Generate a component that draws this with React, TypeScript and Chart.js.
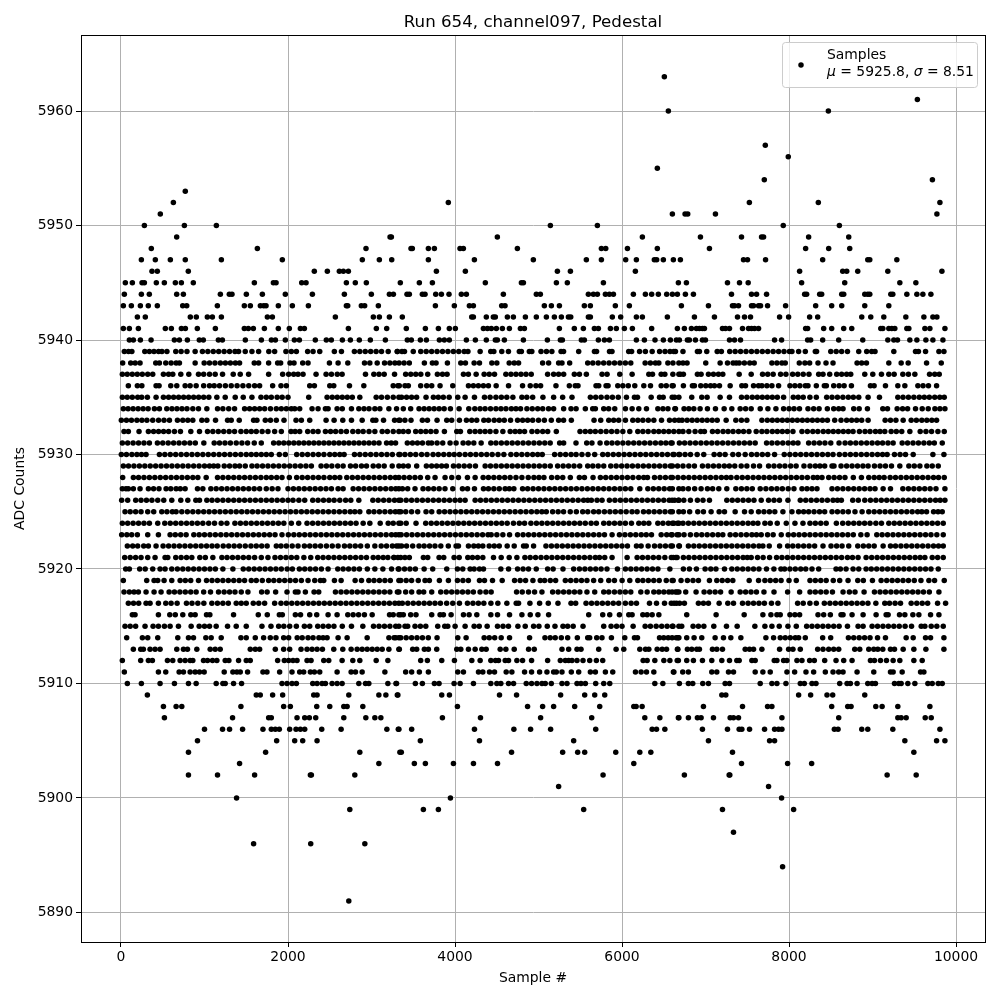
import React, { useEffect, useRef } from "react";
import { Chart, registerables } from "chart.js";

Chart.register(...registerables);

const titleText = "Run 654, channel097, Pedestal";
const xLabel = "Sample #";
const yLabel = "ADC Counts";
const xTicks = [0, 2000, 4000, 6000, 8000, 10000];
const yTicks = [5890, 5900, 5910, 5920, 5930, 5940, 5950, 5960];

const adc5963 = [6507];
const adc5961 = [9537];
const adc5960 = [6555, 8471];
const adc5957 = [7716];
const adc5956 = [7991];
const adc5955 = [6423];
const adc5954 = [7704, 9717];
const adc5953 = [770];
const adc5952 = [627, 3920, 7525, 8351, 9807];
const adc5951 = [471, 6603, 6755, 6787, 7119, 9771];
const adc5950 = [280, 759, 1142, 5142, 5705, 7931, 8603];
const adc5949 = [667, 3222, 3238, 4507, 6244, 6939, 7431, 7671, 7695, 8235, 8715];
const adc5948 = [363, 1633, 2934, 3473, 3489, 3681, 3753, 4060, 4100, 4747, 5753, 5805, 6065, 6423, 7047, 8199, 8475, 8727];
const adc5947 = [244, 411, 591, 770, 1202, 1932, 2890, 3094, 3242, 3681, 4232, 4938, 5573, 5753, 6044, 6172, 6387, 6415, 6495, 6615, 6699, 7455, 7503, 7719, 8403, 8943, 8967, 9291];
const adc5946 = [371, 435, 806, 2315, 2471, 2615, 2663, 2723, 3777, 4124, 5226, 5382, 6160, 8127, 8643, 8691, 8823, 9183, 9831];
const adc5945 = [52, 136, 252, 280, 423, 519, 651, 723, 866, 1597, 1825, 1857, 2164, 2216, 2699, 2806, 2938, 3345, 3573, 3729, 4363, 4795, 4819, 5214, 5345, 5777, 6675, 6771, 7263, 7407, 7511, 8151, 8667, 9327, 9519];
const adc5944 = [40, 244, 339, 667, 747, 1190, 1297, 1329, 1501, 1693, 1968, 2292, 2675, 2998, 3214, 3262, 3425, 3453, 3609, 3641, 3769, 3837, 3928, 4076, 4136, 4579, 4974, 5022, 5597, 5657, 5705, 5801, 5849, 5897, 6136, 6280, 6355, 6435, 6535, 6603, 6663, 6759, 6855, 7311, 7551, 7611, 7731, 8187, 8211, 8367, 8391, 8631, 8655, 8907, 8943, 8967, 9219, 9243, 9411, 9531, 9603, 9699];
const adc5943 = [28, 124, 232, 327, 435, 739, 787, 1154, 1477, 1549, 1669, 1709, 1737, 1884, 2052, 2244, 2699, 2715, 2878, 2918, 3082, 3765, 3992, 4172, 4220, 4559, 4599, 5070, 5154, 5250, 5549, 5621, 5920, 6088, 6711, 7035, 7323, 7347, 7395, 7551, 7575, 7635, 7659, 7743, 7959, 8319, 8511, 8631, 8907, 9195];
const adc5942 = [196, 291, 830, 902, 1034, 1094, 1202, 1753, 1813, 2567, 3022, 3094, 3214, 3369, 4200, 4220, 4375, 4459, 4483, 4627, 4699, 4843, 4974, 5094, 5190, 5274, 5358, 5386, 5597, 5621, 5884, 5984, 6172, 6244, 6543, 6867, 7107, 7383, 7467, 7539, 7887, 7995, 8247, 8343, 8871, 8979, 9135, 9399, 9615, 9723, 9771];
const adc5941 = [28, 100, 208, 531, 603, 723, 771, 914, 1130, 1477, 1525, 1585, 1717, 1884, 2016, 2148, 2196, 2723, 3058, 3182, 3417, 3645, 3801, 3932, 4004, 4340, 4388, 4435, 4495, 4567, 4651, 4783, 4831, 5250, 5429, 5537, 5669, 5717, 5861, 5932, 6028, 6124, 6355, 6663, 6747, 6831, 6891, 6927, 6963, 6987, 7203, 7239, 7287, 7443, 7515, 7551, 7587, 7635, 8199, 8223, 8415, 8511, 8655, 8751, 9099, 9123, 9195, 9231, 9267, 9411, 9435, 9627, 9687, 9867];
const adc5940 = [100, 148, 232, 360, 639, 699, 795, 938, 986, 1166, 1214, 1489, 1681, 1801, 1849, 1968, 2076, 2136, 2327, 2459, 2519, 2651, 2747, 2854, 2986, 3166, 3429, 3477, 3585, 3657, 3813, 3872, 3932, 4136, 4244, 4375, 4483, 4507, 4591, 4819, 5106, 5262, 5286, 5513, 5549, 5717, 5789, 5849, 6172, 6268, 6395, 6495, 6579, 6651, 6687, 6783, 6807, 6879, 6963, 6999, 7287, 7347, 7419, 7827, 7911, 8223, 8259, 8403, 8595, 8883, 9183, 9255, 9299, 9447, 9531, 9639, 9723, 9843];
const adc5939 = [40, 90, 130, 285, 340, 395, 450, 490, 550, 656, 720, 790, 888, 975, 1040, 1105, 1170, 1235, 1300, 1365, 1408, 1488, 1568, 1648, 1770, 1840, 1975, 2040, 2100, 2235, 2300, 2380, 2555, 2640, 2795, 2860, 2925, 2990, 3055, 3120, 3200, 3308, 3310, 3365, 3395, 3500, 3590, 3655, 3720, 3785, 3850, 3915, 3980, 4045, 4110, 4155, 4301, 4428, 4465, 4560, 4640, 4770, 4795, 4890, 4920, 5030, 5095, 5160, 5270, 5300, 5481, 5670, 5695, 5850, 5880, 6080, 6115, 6210, 6280, 6361, 6450, 6515, 6575, 6620, 6640, 6730, 6903, 6927, 7015, 7140, 7190, 7290, 7355, 7420, 7485, 7550, 7615, 7680, 7745, 7810, 7875, 7940, 8005, 8035, 8115, 8195, 8315, 8330, 8500, 8565, 8630, 8700, 8835, 8930, 8990, 9030, 9255, 9515, 9550, 9635, 9795, 9855];
const adc5938 = [20, 116, 170, 228, 416, 460, 536, 600, 660, 700, 888, 996, 1060, 1125, 1190, 1250, 1310, 1370, 1420, 1596, 1648, 1768, 1876, 1912, 2024, 2072, 2176, 2240, 2496, 2600, 2716, 2916, 2980, 3068, 3156, 3220, 3280, 3330, 3390, 3453, 3633, 3729, 3773, 3909, 4069, 4125, 4229, 4293, 4441, 4501, 4649, 4709, 4761, 5049, 5121, 5241, 5281, 5373, 5589, 5650, 5715, 5780, 5845, 5910, 5975, 6040, 6105, 6277, 6340, 6400, 6441, 6549, 6610, 6681, 6730, 6779, 7003, 7175, 7263, 7330, 7367, 7403, 7465, 7530, 7583, 7795, 7855, 7915, 7955, 8123, 8190, 8247, 8347, 8443, 8527, 8815, 8870, 8927, 9195, 9343, 9427, 9647, 9823];
const adc5937 = [16, 75, 135, 195, 255, 320, 380, 508, 570, 620, 716, 812, 928, 990, 1060, 1128, 1216, 1344, 1428, 1528, 1768, 1936, 2008, 2068, 2120, 2180, 2336, 2456, 2520, 2590, 2648, 2928, 3028, 3090, 3152, 3276, 3409, 3470, 3530, 3590, 3673, 3789, 3850, 3905, 4101, 4160, 4253, 4349, 4410, 4473, 4609, 4670, 4730, 4790, 4850, 4913, 5109, 5181, 5241, 5301, 5429, 5490, 5573, 5761, 5821, 5973, 6121, 6321, 6365, 6469, 6513, 6609, 6681, 6700, 6735, 6903, 6947, 7035, 7095, 7155, 7207, 7403, 7547, 7683, 7745, 7810, 7899, 7963, 8043, 8105, 8170, 8239, 8355, 8407, 8487, 8571, 8630, 8690, 8739, 8907, 9003, 9107, 9195, 9259, 9363, 9430, 9507, 9683, 9745, 9799];
const adc5936 = [88, 196, 250, 420, 456, 596, 668, 768, 828, 900, 990, 1060, 1116, 1180, 1250, 1320, 1390, 1460, 1530, 1600, 1660, 1816, 1916, 1980, 2260, 2316, 2500, 2548, 2736, 2908, 3260, 3316, 3333, 3401, 3441, 3589, 3661, 3721, 3821, 3973, 4161, 4220, 4280, 4340, 4400, 4493, 4641, 4809, 4901, 4969, 5025, 5209, 5369, 5440, 5473, 5689, 5721, 5809, 5833, 5949, 6010, 6075, 6153, 6261, 6341, 6469, 6530, 6600, 6613, 6735, 6843, 6867, 6943, 7003, 7060, 7107, 7167, 7295, 7435, 7479, 7575, 7635, 7675, 7735, 7795, 7875, 8011, 8070, 8130, 8195, 8227, 8327, 8423, 8447, 8535, 8600, 8660, 8747, 8975, 9019, 9155, 9303, 9387, 9543, 9605, 9670, 9767];
const adc5935 = [16, 75, 135, 200, 248, 316, 420, 508, 570, 630, 690, 750, 810, 870, 930, 990, 1052, 1148, 1248, 1368, 1464, 1568, 1676, 1740, 1800, 1870, 1930, 2000, 2248, 2468, 2530, 2590, 2650, 2710, 2770, 2860, 3056, 3120, 3190, 3260, 3328, 3360, 3420, 3480, 3540, 3653, 3741, 3800, 3860, 3930, 4033, 4121, 4233, 4353, 4420, 4490, 4555, 4620, 4693, 4801, 4860, 4930, 5053, 5181, 5289, 5401, 5621, 5685, 5750, 5820, 5885, 5955, 6053, 6149, 6185, 6349, 6449, 6493, 6601, 6630, 6681, 6835, 6955, 7019, 7175, 7287, 7431, 7495, 7560, 7620, 7680, 7740, 7800, 7860, 7935, 8051, 8110, 8170, 8250, 8327, 8451, 8515, 8580, 8645, 8710, 8770, 8835, 8947, 9083, 9303, 9365, 9430, 9495, 9560, 9620, 9680, 9745, 9805, 9859];
const adc5934 = [28, 85, 145, 205, 265, 325, 400, 460, 548, 610, 670, 730, 790, 860, 928, 1028, 1156, 1220, 1290, 1360, 1480, 1540, 1600, 1660, 1720, 1790, 1860, 1920, 1980, 2040, 2080, 2140, 2288, 2360, 2448, 2480, 2588, 2650, 2760, 2848, 2910, 2970, 3040, 3100, 3208, 3300, 3381, 3469, 3569, 3630, 3690, 3750, 3810, 3870, 3945, 4049, 4165, 4237, 4300, 4360, 4425, 4490, 4550, 4610, 4675, 4730, 4785, 4861, 4925, 4990, 5050, 5120, 5181, 5301, 5389, 5450, 5561, 5649, 5681, 5781, 5840, 5913, 6041, 6121, 6201, 6293, 6429, 6490, 6550, 6633, 6640, 6743, 6800, 6860, 6935, 7023, 7119, 7223, 7315, 7415, 7480, 7547, 7655, 7747, 7843, 7935, 8000, 8060, 8125, 8227, 8295, 8360, 8459, 8535, 8595, 8647, 8775, 8840, 8939, 9123, 9179, 9295, 9360, 9420, 9515, 9595, 9667, 9747, 9807, 9867];
const adc5933 = [4, 65, 125, 190, 250, 310, 380, 450, 515, 580, 676, 740, 800, 860, 968, 1028, 1132, 1276, 1320, 1416, 1588, 1628, 1728, 1790, 1860, 1952, 2096, 2160, 2260, 2456, 2552, 2656, 2760, 2888, 3016, 3052, 3144, 3276, 3328, 3340, 3400, 3473, 3609, 3670, 3785, 3901, 3960, 4053, 4137, 4200, 4260, 4345, 4401, 4469, 4530, 4590, 4665, 4749, 4810, 4870, 4930, 5000, 5070, 5153, 5241, 5300, 5393, 5665, 5745, 5841, 5900, 5960, 6041, 6129, 6190, 6250, 6315, 6381, 6473, 6569, 6630, 6681, 6720, 6780, 6840, 6900, 6960, 7020, 7080, 7140, 7247, 7363, 7430, 7495, 7675, 7740, 7800, 7860, 7920, 7980, 8040, 8100, 8160, 8220, 8280, 8340, 8400, 8460, 8547, 8623, 8690, 8750, 8810, 8870, 8947, 9151, 9215, 9280, 9367, 9463, 9525, 9590, 9650, 9710, 9767];
const adc5932 = [36, 88, 216, 328, 390, 450, 510, 570, 640, 712, 836, 940, 1036, 1100, 1165, 1230, 1295, 1360, 1436, 1500, 1560, 1620, 1690, 1760, 1840, 1920, 2036, 2085, 2140, 2236, 2300, 2360, 2448, 2510, 2570, 2635, 2700, 2776, 2840, 2900, 2970, 3040, 3128, 3190, 3260, 3328, 3380, 3441, 3529, 3590, 3650, 3710, 3773, 3873, 4021, 4065, 4177, 4240, 4300, 4360, 4420, 4490, 4573, 4661, 4720, 4775, 4833, 4921, 4985, 5050, 5110, 5213, 5497, 5560, 5620, 5680, 5745, 5810, 5875, 5940, 6010, 6093, 6189, 6250, 6313, 6381, 6440, 6500, 6560, 6620, 6681, 6730, 6800, 6875, 6943, 6987, 7083, 7145, 7210, 7270, 7330, 7395, 7455, 7520, 7607, 7675, 7735, 7800, 7860, 7920, 7980, 8047, 8155, 8220, 8285, 8345, 8410, 8470, 8530, 8590, 8650, 8710, 8767, 8843, 8910, 8970, 9035, 9090, 9147, 9223, 9285, 9350, 9447, 9571, 9640, 9707, 9783, 9859];
const adc5931 = [16, 80, 145, 210, 275, 340, 436, 500, 565, 630, 695, 760, 825, 890, 992, 1116, 1180, 1245, 1310, 1380, 1448, 1516, 1596, 1680, 1828, 1890, 1950, 2010, 2070, 2130, 2190, 2250, 2310, 2370, 2430, 2490, 2550, 2610, 2670, 2730, 2790, 2850, 2910, 2970, 3030, 3090, 3180, 3236, 3288, 3429, 3490, 3550, 3610, 3680, 3720, 3785, 3853, 3941, 4013, 4097, 4160, 4225, 4313, 4429, 4490, 4555, 4620, 4685, 4750, 4815, 4880, 4945, 5010, 5075, 5140, 5253, 5301, 5449, 5577, 5640, 5737, 5817, 5880, 5945, 6010, 6075, 6140, 6205, 6270, 6335, 6400, 6465, 6525, 6585, 6600, 6687, 6750, 6815, 6880, 6945, 7010, 7075, 7140, 7205, 7270, 7335, 7400, 7465, 7530, 7595, 7731, 7795, 7860, 7925, 7990, 8050, 8107, 8235, 8300, 8365, 8430, 8500, 8599, 8671, 8735, 8800, 8865, 8930, 8995, 9060, 9120, 9185, 9247, 9355, 9420, 9485, 9550, 9615, 9680, 9740, 9835];
const adc5930 = [4, 65, 130, 190, 245, 300, 460, 525, 590, 655, 720, 785, 850, 915, 980, 1045, 1110, 1175, 1240, 1305, 1370, 1435, 1500, 1560, 1620, 1680, 1740, 1800, 1896, 1968, 2104, 2170, 2235, 2300, 2365, 2430, 2500, 2560, 2620, 2672, 2796, 2860, 2925, 2990, 3055, 3120, 3185, 3250, 3328, 3340, 3400, 3465, 3530, 3600, 3665, 3737, 3800, 3865, 3930, 3990, 4053, 4121, 4185, 4250, 4315, 4380, 4445, 4515, 4585, 4669, 4735, 4800, 4865, 4930, 4990, 5045, 5193, 5260, 5325, 5390, 5450, 5520, 5593, 5673, 5769, 5830, 5895, 5960, 6025, 6090, 6155, 6220, 6285, 6350, 6415, 6480, 6545, 6610, 6681, 6623, 6690, 6755, 6820, 6900, 6979, 7103, 7170, 7235, 7327, 7395, 7475, 7551, 7615, 7680, 7745, 7827, 7943, 8010, 8075, 8140, 8205, 8270, 8335, 8400, 8465, 8527, 8603, 8670, 8735, 8800, 8865, 8930, 8995, 9060, 9120, 9175, 9263, 9330, 9395, 9487, 9723, 9855];
const adc5929 = [28, 90, 155, 220, 285, 350, 415, 480, 545, 610, 675, 740, 805, 870, 935, 1000, 1060, 1110, 1160, 1236, 1300, 1365, 1420, 1488, 1568, 1630, 1695, 1760, 1825, 1890, 1955, 2020, 2085, 2150, 2215, 2280, 2396, 2460, 2525, 2595, 2660, 2748, 2810, 2880, 2940, 3020, 3085, 3152, 3248, 3328, 3381, 3440, 3541, 3657, 3720, 3780, 3840, 3897, 3981, 4045, 4110, 4175, 4245, 4361, 4425, 4490, 4555, 4620, 4685, 4750, 4815, 4880, 4945, 5010, 5075, 5141, 5229, 5295, 5360, 5425, 5493, 5589, 5650, 5715, 5781, 5865, 5930, 5995, 6060, 6125, 6190, 6255, 6320, 6385, 6450, 6515, 6580, 6603, 6665, 6730, 6800, 6867, 6963, 7030, 7095, 7160, 7225, 7285, 7350, 7427, 7495, 7575, 7647, 7755, 7820, 7887, 7951, 8020, 8085, 8179, 8251, 8315, 8370, 8427, 8515, 8539, 8623, 8690, 8755, 8820, 8885, 8947, 9023, 9090, 9155, 9227, 9327, 9435, 9500, 9567, 9651, 9715, 9787];
const adc5928 = [20, 148, 210, 275, 340, 405, 470, 535, 600, 665, 730, 795, 860, 920, 1020, 1156, 1220, 1285, 1350, 1415, 1480, 1545, 1610, 1675, 1740, 1800, 1865, 1928, 2016, 2104, 2170, 2235, 2300, 2365, 2430, 2500, 2560, 2620, 2704, 2770, 2835, 2900, 2965, 3030, 3095, 3160, 3225, 3285, 3328, 3390, 3455, 3520, 3585, 3673, 3761, 3881, 3961, 4041, 4149, 4241, 4337, 4400, 4465, 4530, 4595, 4660, 4730, 4801, 4877, 4945, 5005, 5065, 5157, 5225, 5290, 5381, 5489, 5550, 5653, 5741, 5805, 5870, 5935, 6000, 6065, 6130, 6200, 6260, 6305, 6389, 6455, 6520, 6585, 6603, 6670, 6735, 6800, 6865, 6930, 6995, 7060, 7125, 7190, 7250, 7305, 7375, 7440, 7505, 7570, 7635, 7700, 7765, 7830, 7895, 7960, 8025, 8090, 8155, 8220, 8290, 8340, 8395, 8475, 8540, 8605, 8670, 8770, 8867, 8955, 9020, 9080, 9139, 9211, 9275, 9340, 9405, 9470, 9535, 9600, 9665, 9730, 9790, 9859];
const adc5927 = [16, 60, 88, 148, 228, 328, 390, 455, 540, 596, 660, 710, 768, 916, 980, 1076, 1140, 1205, 1270, 1335, 1400, 1465, 1530, 1595, 1660, 1740, 1810, 1880, 2000, 2065, 2130, 2195, 2260, 2325, 2390, 2455, 2520, 2600, 2660, 2780, 2845, 2910, 2975, 3040, 3105, 3170, 3235, 3290, 3328, 3370, 3433, 3521, 3617, 3680, 3745, 3810, 3880, 3973, 4089, 4150, 4233, 4341, 4400, 4465, 4530, 4600, 4650, 4705, 4809, 4870, 4935, 5000, 5065, 5130, 5195, 5260, 5325, 5390, 5455, 5520, 5585, 5650, 5715, 5780, 5845, 5910, 5975, 6040, 6105, 6213, 6309, 6375, 6440, 6505, 6570, 6603, 6681, 6730, 6795, 6870, 6947, 7023, 7085, 7159, 7255, 7363, 7430, 7495, 7560, 7655, 7723, 7790, 7855, 7920, 7990, 8059, 8155, 8215, 8275, 8335, 8515, 8580, 8645, 8710, 8775, 8840, 8905, 8970, 9030, 9127, 9215, 9363, 9430, 9495, 9560, 9625, 9690, 9760, 9867];
const adc5926 = [8, 80, 176, 240, 305, 370, 440, 512, 608, 716, 800, 896, 940, 1028, 1090, 1155, 1220, 1285, 1350, 1415, 1480, 1545, 1610, 1675, 1740, 1805, 1870, 1935, 2000, 2060, 2130, 2200, 2296, 2360, 2425, 2490, 2552, 2620, 2690, 2752, 2848, 3016, 3080, 3145, 3210, 3275, 3328, 3350, 3415, 3480, 3545, 3610, 3675, 3740, 3805, 3870, 3935, 4000, 4060, 4121, 4241, 4305, 4370, 4435, 4500, 4565, 4630, 4695, 4760, 4825, 4890, 4955, 5020, 5085, 5150, 5215, 5280, 5345, 5410, 5475, 5540, 5590, 5633, 5701, 5761, 5849, 5915, 5980, 6045, 6110, 6175, 6240, 6305, 6370, 6435, 6500, 6565, 6630, 6681, 6600, 6675, 6740, 6819, 6903, 6970, 7047, 7255, 7320, 7385, 7450, 7515, 7580, 7667, 7755, 7820, 7885, 7987, 8135, 8200, 8265, 8330, 8395, 8460, 8527, 8580, 8627, 8763, 8830, 8907, 8975, 9040, 9105, 9170, 9235, 9300, 9365, 9430, 9495, 9560, 9625, 9690, 9755, 9810, 9867];
const adc5925 = [48, 110, 175, 240, 320, 392, 488, 550, 615, 660, 728, 795, 860, 925, 990, 1055, 1120, 1185, 1250, 1315, 1380, 1445, 1510, 1575, 1640, 1705, 1770, 1835, 1900, 1965, 2030, 2095, 2160, 2225, 2290, 2355, 2420, 2485, 2550, 2615, 2680, 2745, 2800, 2860, 2968, 3030, 3095, 3160, 3225, 3285, 3328, 3350, 3410, 3480, 3553, 3653, 3721, 3810, 3875, 3940, 4005, 4070, 4135, 4200, 4265, 4330, 4395, 4460, 4525, 4590, 4655, 4720, 4785, 4850, 4915, 4980, 5040, 5093, 5169, 5235, 5300, 5380, 5453, 5529, 5590, 5660, 5721, 5789, 5855, 5920, 5985, 6050, 6120, 6181, 6257, 6320, 6385, 6450, 6515, 6580, 6603, 6681, 6735, 6810, 6907, 6975, 7067, 7163, 7227, 7355, 7467, 7547, 7635, 7700, 7765, 7830, 7927, 8035, 8115, 8175, 8235, 8300, 8365, 8427, 8515, 8580, 8645, 8710, 8790, 8875, 8955, 9020, 9085, 9150, 9215, 9280, 9345, 9410, 9475, 9540, 9590, 9647, 9731, 9785, 9835];
const adc5924 = [16, 80, 145, 210, 275, 340, 440, 524, 590, 655, 720, 785, 850, 915, 980, 1050, 1120, 1200, 1268, 1364, 1430, 1495, 1560, 1625, 1690, 1755, 1820, 1885, 1950, 2040, 2128, 2228, 2295, 2360, 2425, 2490, 2555, 2620, 2685, 2750, 2815, 2900, 2980, 3104, 3200, 3260, 3328, 3350, 3415, 3533, 3649, 3715, 3780, 3845, 3910, 3975, 4040, 4105, 4170, 4235, 4300, 4365, 4430, 4495, 4560, 4625, 4700, 4770, 4833, 4909, 4975, 5040, 5105, 5170, 5235, 5300, 5365, 5430, 5495, 5560, 5630, 5693, 5781, 5845, 5910, 5975, 6040, 6113, 6201, 6261, 6321, 6429, 6490, 6555, 6620, 6681, 6603, 6665, 6730, 6795, 6860, 6925, 6990, 7055, 7120, 7185, 7250, 7315, 7380, 7445, 7510, 7570, 7627, 7711, 7775, 7859, 7967, 8071, 8167, 8251, 8315, 8380, 8445, 8567, 8643, 8710, 8775, 8840, 8905, 8970, 9040, 9107, 9195, 9260, 9325, 9390, 9455, 9520, 9585, 9650, 9715, 9780, 9847];
const adc5923 = [8, 70, 128, 196, 320, 448, 588, 650, 715, 780, 872, 936, 1000, 1065, 1130, 1195, 1260, 1325, 1390, 1455, 1520, 1585, 1650, 1715, 1780, 1845, 1928, 2004, 2070, 2135, 2200, 2265, 2330, 2395, 2460, 2525, 2590, 2655, 2720, 2785, 2850, 2915, 2980, 3045, 3110, 3175, 3240, 3290, 3328, 3355, 3420, 3485, 3550, 3615, 3680, 3745, 3810, 3875, 3940, 4005, 4070, 4135, 4200, 4265, 4330, 4395, 4433, 4501, 4573, 4653, 4749, 4815, 4880, 4945, 5010, 5075, 5140, 5205, 5270, 5335, 5400, 5465, 5530, 5595, 5660, 5725, 5790, 5881, 5969, 6035, 6100, 6165, 6230, 6290, 6353, 6469, 6535, 6600, 6681, 6590, 6660, 6743, 6819, 6891, 6955, 7020, 7085, 7150, 7207, 7295, 7360, 7425, 7490, 7555, 7610, 7667, 7743, 7810, 7907, 7991, 8055, 8120, 8185, 8250, 8315, 8380, 8445, 8510, 8575, 8640, 8705, 8770, 8860, 8935, 9051, 9115, 9180, 9245, 9310, 9375, 9440, 9505, 9570, 9635, 9700, 9770, 9847];
const adc5922 = [76, 140, 200, 272, 328, 420, 504, 570, 635, 700, 765, 830, 895, 960, 1025, 1090, 1152, 1224, 1290, 1355, 1420, 1488, 1556, 1620, 1685, 1750, 1860, 1916, 1980, 2050, 2120, 2196, 2260, 2325, 2390, 2460, 2530, 2600, 2676, 2740, 2805, 2870, 2950, 3040, 3116, 3180, 3250, 3328, 3300, 3360, 3420, 3493, 3569, 3630, 3695, 3760, 3830, 3920, 4013, 4041, 4161, 4225, 4280, 4333, 4409, 4470, 4530, 4625, 4709, 4821, 4853, 4941, 5089, 5155, 5220, 5285, 5350, 5415, 5480, 5545, 5610, 5675, 5740, 5805, 5870, 5935, 6000, 6065, 6173, 6229, 6313, 6389, 6455, 6520, 6585, 6603, 6681, 6687, 6795, 6860, 6925, 6990, 7055, 7120, 7185, 7250, 7315, 7380, 7445, 7510, 7575, 7640, 7687, 7763, 7887, 7983, 8045, 8110, 8175, 8240, 8307, 8407, 8503, 8570, 8635, 8715, 8823, 8890, 8955, 9020, 9127, 9215, 9275, 9340, 9405, 9470, 9535, 9600, 9665, 9730, 9790, 9847];
const adc5921 = [44, 110, 175, 240, 320, 408, 528, 560, 656, 720, 785, 848, 944, 1010, 1100, 1208, 1270, 1335, 1400, 1465, 1530, 1600, 1680, 1760, 1844, 1910, 1975, 2040, 2105, 2190, 2272, 2356, 2420, 2485, 2550, 2615, 2680, 2745, 2810, 2875, 2940, 3020, 3080, 3140, 3196, 3268, 3316, 3269, 3349, 3400, 3453, 3621, 3673, 3809, 3865, 3989, 4050, 4153, 4209, 4270, 4333, 4461, 4553, 4649, 4741, 4837, 4900, 4965, 5030, 5095, 5160, 5225, 5290, 5355, 5420, 5485, 5550, 5615, 5680, 5730, 5793, 5881, 6061, 6181, 6245, 6310, 6375, 6440, 6513, 6613, 6645, 6590, 6660, 6735, 6800, 6865, 6930, 6995, 7060, 7125, 7190, 7255, 7320, 7385, 7450, 7500, 7547, 7623, 7690, 7767, 7851, 7915, 7980, 8045, 8110, 8175, 8240, 8305, 8370, 8435, 8500, 8565, 8630, 8700, 8760, 8827, 8923, 8990, 9055, 9120, 9185, 9250, 9315, 9380, 9445, 9510, 9570, 9627, 9715, 9780, 9847];
const adc5920 = [56, 100, 224, 290, 380, 468, 528, 608, 675, 740, 805, 870, 935, 1000, 1065, 1130, 1220, 1340, 1464, 1530, 1595, 1660, 1725, 1790, 1855, 1920, 1990, 2052, 2136, 2200, 2265, 2330, 2400, 2480, 2596, 2660, 2725, 2790, 2855, 2950, 3040, 3136, 3240, 3320, 3329, 3395, 3460, 3525, 3630, 3733, 3901, 4029, 4093, 4181, 4229, 4293, 4341, 4549, 4641, 4749, 4815, 4880, 4973, 5109, 5175, 5293, 5421, 5490, 5555, 5620, 5685, 5750, 5820, 5945, 6041, 6105, 6170, 6235, 6300, 6365, 6430, 6573, 6735, 6807, 6891, 6995, 7063, 7125, 7227, 7315, 7380, 7445, 7510, 7575, 7640, 7730, 7819, 7903, 7947, 8011, 8075, 8140, 8200, 8275, 8355, 8563, 8615, 8683, 8767, 8835, 8923, 8985, 9050, 9115, 9180, 9245, 9310, 9375, 9440, 9505, 9570, 9635, 9700, 9787];
const adc5919 = [28, 308, 396, 440, 516, 608, 708, 770, 835, 928, 1024, 1090, 1155, 1220, 1285, 1350, 1415, 1480, 1560, 1620, 1692, 1768, 1830, 1895, 1960, 2025, 2090, 2160, 2240, 2320, 2388, 2428, 2556, 2636, 2804, 2880, 2968, 3030, 3095, 3160, 3225, 3328, 3350, 3415, 3480, 3560, 3641, 3693, 3813, 3921, 4029, 4095, 4160, 4293, 4353, 4449, 4565, 4713, 4780, 4845, 4933, 5021, 5073, 5141, 5205, 5321, 5385, 5450, 5515, 5580, 5660, 5745, 5841, 5909, 6001, 6093, 6189, 6250, 6315, 6380, 6445, 6530, 6613, 6600, 6707, 6783, 6850, 6915, 7047, 7135, 7200, 7265, 7327, 7523, 7635, 7711, 7775, 7840, 7905, 8000, 8087, 8251, 8315, 8380, 8445, 8530, 8607, 8707, 8823, 8890, 8999, 9103, 9170, 9235, 9300, 9365, 9430, 9500, 9580, 9675, 9743, 9859];
const adc5918 = [36, 100, 156, 208, 300, 396, 480, 576, 640, 705, 770, 835, 900, 990, 1072, 1168, 1235, 1300, 1365, 1440, 1520, 1684, 1750, 1852, 1988, 2088, 2120, 2208, 2312, 2368, 2568, 2635, 2700, 2765, 2830, 2895, 2960, 3025, 3090, 3155, 3220, 3328, 3310, 3409, 3481, 3569, 3625, 3721, 3829, 3895, 3960, 4025, 4090, 4155, 4220, 4300, 4370, 4433, 4737, 4805, 4880, 4953, 5041, 5169, 5235, 5300, 5365, 5430, 5495, 5580, 5673, 5781, 5841, 5909, 5975, 6040, 6105, 6225, 6301, 6381, 6441, 6501, 6561, 6641, 6681, 6600, 6660, 6763, 6887, 6983, 7050, 7115, 7180, 7307, 7415, 7480, 7545, 7610, 7700, 7820, 7983, 8127, 8251, 8315, 8380, 8445, 8520, 8647, 8723, 8790, 8899, 9023, 9090, 9155, 9220, 9285, 9350, 9415, 9480, 9545, 9610, 9680, 9795];
const adc5917 = [88, 150, 212, 300, 348, 448, 536, 600, 672, 784, 850, 920, 992, 1088, 1155, 1220, 1285, 1380, 1440, 1500, 1584, 1650, 1720, 1840, 1916, 1980, 2045, 2110, 2175, 2240, 2305, 2370, 2435, 2500, 2565, 2630, 2695, 2760, 2825, 2890, 2955, 3020, 3085, 3150, 3215, 3280, 3328, 3369, 3435, 3500, 3565, 3630, 3695, 3760, 3825, 3900, 3973, 4053, 4149, 4215, 4280, 4345, 4430, 4513, 4621, 4733, 4761, 4897, 5013, 5117, 5233, 5389, 5445, 5569, 5635, 5700, 5765, 5830, 5895, 5960, 6040, 6109, 6173, 6329, 6413, 6509, 6590, 6653, 6623, 6690, 6747, 6915, 6975, 7035, 7163, 7267, 7335, 7443, 7510, 7575, 7640, 7705, 7790, 7867, 8103, 8170, 8250, 8327, 8423, 8490, 8555, 8620, 8685, 8750, 8815, 8880, 8945, 9040, 9147, 9203, 9270, 9335, 9463, 9530, 9595, 9660, 9779, 9875];
const adc5916 = [136, 168, 448, 584, 650, 740, 836, 888, 1024, 1064, 1348, 1644, 1752, 1896, 1932, 2088, 2150, 2260, 2344, 2480, 2588, 2716, 2780, 2845, 2915, 3008, 3216, 3328, 3260, 3349, 3381, 3469, 3533, 3721, 3821, 3861, 3953, 4101, 4169, 4261, 4429, 4509, 4653, 4801, 4901, 4993, 5121, 5601, 5769, 5853, 5969, 6081, 6121, 6249, 6301, 6361, 6441, 6775, 7127, 7463, 7687, 7783, 7855, 7895, 8011, 8070, 8127, 8347, 8415, 8495, 8623, 8647, 8755, 8887, 9043, 9163, 9187, 9323, 9387, 9483, 9555, 9695, 9795];
const adc5915 = [48, 110, 175, 288, 384, 448, 520, 588, 688, 840, 936, 1000, 1060, 1140, 1276, 1380, 1500, 1688, 1796, 1888, 1950, 2020, 2100, 2196, 2260, 2356, 2420, 2485, 2550, 2650, 2760, 2896, 3024, 3090, 3155, 3220, 3290, 3328, 3401, 3433, 3521, 3585, 3650, 3793, 3877, 3913, 4001, 4121, 4229, 4290, 4385, 4509, 4575, 4640, 4753, 4841, 4941, 5005, 5105, 5197, 5293, 5349, 5415, 5533, 5781, 5869, 5935, 6000, 6133, 6277, 6340, 6409, 6475, 6540, 6610, 6681, 6603, 6715, 6851, 6915, 6980, 7099, 7251, 7379, 7591, 7711, 7795, 7883, 7987, 8087, 8211, 8275, 8340, 8405, 8470, 8535, 8600, 8700, 8827, 8887, 8995, 9060, 9125, 9190, 9255, 9320, 9390, 9467, 9583, 9627, 9703, 9770, 9847];
const adc5914 = [68, 256, 320, 440, 680, 808, 868, 1016, 1080, 1200, 1436, 1500, 1608, 1708, 1788, 1856, 1948, 2008, 2110, 2170, 2240, 2300, 2370, 2420, 2468, 2600, 2708, 2948, 3208, 3270, 3328, 3290, 3350, 3415, 3480, 3545, 3610, 3680, 3785, 4033, 4133, 4349, 4410, 4475, 4553, 4653, 4893, 5077, 5140, 5200, 5273, 5349, 5465, 5589, 5613, 5697, 5760, 5873, 6033, 6149, 6185, 6449, 6500, 6553, 6649, 6681, 6600, 6670, 6775, 6863, 6955, 7115, 7215, 7303, 7423, 7723, 7815, 7895, 7955, 8015, 8075, 8115, 8195, 8403, 8499, 8711, 8775, 8840, 8905, 8970, 9060, 9155, 9403, 9487, 9635, 9695, 9855];
const adc5913 = [148, 236, 268, 348, 408, 468, 668, 748, 796, 908, 1068, 1128, 1188, 1548, 1608, 1660, 1848, 1948, 2020, 2156, 2228, 2288, 2348, 2412, 2548, 2656, 2756, 2828, 2888, 2948, 3008, 3068, 3128, 3208, 3328, 3333, 3493, 3541, 3633, 3681, 3781, 4021, 4069, 4161, 4241, 4321, 4373, 4541, 4609, 4709, 4881, 4949, 5281, 5361, 5461, 5509, 5721, 5929, 6021, 6213, 6281, 6321, 6421, 6481, 6533, 6669, 6663, 6783, 6835, 6895, 6927, 7083, 7135, 7203, 7475, 7527, 7575, 7675, 7887, 7995, 8047, 8135, 8343, 8407, 8475, 8535, 8595, 8787, 8847, 8955, 9015, 9063, 9123, 9215, 9263, 9367, 9495, 9639, 9855];
const adc5912 = [16, 236, 328, 376, 556, 620, 708, 768, 828, 860, 988, 1036, 1096, 1148, 1248, 1292, 1408, 1500, 1548, 1876, 1956, 2008, 2060, 2108, 2228, 2276, 2428, 2488, 2648, 2776, 2860, 3056, 3196, 3589, 3669, 3841, 3993, 4201, 4301, 4429, 4485, 4521, 4601, 4641, 4741, 4809, 4917, 5109, 5261, 5321, 5361, 5401, 5461, 5533, 5613, 5693, 5769, 6253, 6301, 6393, 6501, 6573, 6661, 6675, 6775, 6855, 6963, 7075, 7195, 7287, 7375, 7403, 7555, 7595, 7823, 7855, 7935, 7975, 8095, 8155, 8247, 8303, 8427, 8563, 8655, 8755, 8975, 9023, 9095, 9167, 9247, 9327, 9495, 9595];
const adc5911 = [40, 448, 536, 696, 748, 828, 888, 940, 996, 1236, 1340, 1388, 1428, 1516, 1700, 1748, 1900, 2048, 2140, 2188, 2268, 2316, 2380, 2588, 2756, 2808, 2888, 3160, 3409, 3481, 3573, 3681, 4033, 4101, 4281, 4333, 4413, 4473, 4613, 4681, 4833, 4917, 5013, 5101, 5181, 5213, 5281, 5393, 5481, 5621, 5681, 5801, 5889, 6161, 6229, 6293, 6381, 6621, 6615, 6727, 6795, 7075, 7135, 7275, 7335, 7595, 7687, 7775, 7975, 8067, 8203, 8295, 8435, 8527, 8595, 8647, 8815, 9015, 9215, 9247, 9355, 9575, 9615];
const adc5910 = [76, 244, 468, 640, 808, 900, 1140, 1220, 1248, 1348, 1444, 1928, 1988, 2048, 2100, 2296, 2348, 2408, 2448, 2528, 2588, 2648, 2848, 2928, 2968, 3196, 3300, 3293, 3525, 3609, 3753, 3809, 3989, 4061, 4221, 4429, 4501, 4549, 4641, 4701, 4853, 4917, 4981, 5041, 5081, 5153, 5281, 5341, 5461, 5509, 5561, 5685, 5781, 5853, 6393, 6489, 6687, 6795, 6847, 6967, 7035, 7235, 7287, 7655, 7795, 7855, 7963, 8135, 8183, 8275, 8323, 8607, 8695, 8735, 8815, 8943, 8995, 9035, 9263, 9315, 9343, 9423, 9507, 9663, 9715, 9787, 9835];
const adc5909 = [316, 1620, 1668, 1816, 1936, 2308, 2348, 2728, 3088, 3172, 3316, 3309, 3841, 3933, 4533, 4737, 5265, 5553, 5673, 5793, 7195, 7243, 8115, 8259, 8455, 8523, 8907];
const adc5908 = [508, 660, 728, 1436, 1948, 2028, 2344, 2500, 2668, 2708, 2896, 4029, 4869, 5049, 5181, 5433, 5733, 6141, 6169, 6241, 6975, 7443, 7743, 7795, 8511, 8703, 8743, 9039, 9115, 9303, 9687];
const adc5907 = [520, 1336, 1768, 1800, 2108, 2200, 2256, 2332, 2668, 2932, 3040, 3112, 3849, 4305, 5025, 5637, 6273, 6453, 6681, 6675, 6795, 6903, 6947, 7095, 7295, 7335, 7395, 7915, 8595, 9303, 9343, 9403, 9631, 9703];
const adc5906 = [1000, 1216, 1300, 1456, 1700, 1800, 1848, 1896, 2020, 2096, 2148, 2200, 2404, 2636, 3184, 3328, 3321, 3481, 4233, 4705, 4905, 5145, 5685, 6361, 6413, 6513, 6963, 7263, 7403, 7435, 7527, 7707, 7827, 7875, 7915, 8543, 8587, 8871, 8943, 9243, 9807];
const adc5905 = [916, 1864, 2080, 2176, 2348, 3585, 4293, 5421, 7035, 7767, 7827, 9387, 9767, 9867];
const adc5904 = [808, 1732, 2860, 3340, 3357, 4677, 5289, 5469, 5553, 5925, 6213, 6345, 7323, 9495];
const adc5903 = [1420, 3088, 3513, 3645, 3981, 4221, 4509, 6141, 7431, 7983, 8271];
const adc5902 = [808, 1156, 1600, 2268, 2280, 2800, 5773, 6747, 7283, 7291, 9175, 9523];
const adc5901 = [5241, 7755];
const adc5900 = [1384, 3945, 7911];
const adc5899 = [2740, 3621, 3801, 5541, 7203, 8055];
const adc5897 = [7335];
const adc5896 = [1588, 2272, 2920];
const adc5894 = [7923];
const adc5891 = [2728];

const levels = [
  5963, 5961, 5960, 5957, 5956, 5955, 5954, 5953, 5952, 5951, 5950, 5949, 5948, 5947, 5946, 5945, 5944, 5943, 5942, 5941, 5940,
  5939, 5938, 5937, 5936, 5935, 5934, 5933, 5932, 5931, 5930, 5929, 5928, 5927, 5926, 5925, 5924, 5923, 5922, 5921, 5920, 5919,
  5918, 5917, 5916, 5915, 5914, 5913, 5912, 5911, 5910, 5909, 5908, 5907, 5906, 5905, 5904, 5903, 5902, 5901, 5900, 5899, 5897,
  5896, 5894, 5891,
];
const sampleRows = [
  adc5963, adc5961, adc5960, adc5957, adc5956, adc5955, adc5954, adc5953, adc5952, adc5951, adc5950, adc5949, adc5948, adc5947, adc5946, adc5945, adc5944, adc5943, adc5942, adc5941, adc5940,
  adc5939, adc5938, adc5937, adc5936, adc5935, adc5934, adc5933, adc5932, adc5931, adc5930, adc5929, adc5928, adc5927, adc5926, adc5925, adc5924, adc5923, adc5922, adc5921, adc5920, adc5919,
  adc5918, adc5917, adc5916, adc5915, adc5914, adc5913, adc5912, adc5911, adc5910, adc5909, adc5908, adc5907, adc5906, adc5905, adc5904, adc5903, adc5902, adc5901, adc5900, adc5899, adc5897,
  adc5896, adc5894, adc5891,
];

const FONT = '"DejaVu Sans"';

const framePlugin = {
  id: "frameAndLegend",
  afterDraw(chart: any) {
    const { ctx, chartArea: a } = chart;
    ctx.save();
    ctx.strokeStyle = "#000";
    ctx.lineWidth = 1;
    ctx.strokeRect(a.left + 0.5, a.top + 0.5, a.right - a.left, a.bottom - a.top);

    const bx = 782, by = 42, bw = 195, bh = 45, r = 3;
    ctx.beginPath();
    ctx.roundRect(bx + 0.5, by + 0.5, bw, bh, r);
    ctx.fillStyle = "rgba(255,255,255,0.8)";
    ctx.fill();
    ctx.strokeStyle = "#cccccc";
    ctx.stroke();

    ctx.fillStyle = "#000";
    ctx.beginPath();
    ctx.arc(801, 65, 2.75, 0, Math.PI * 2);
    ctx.fill();

    ctx.textBaseline = "alphabetic";
    ctx.textAlign = "left";
    const normal = `13.9px ${FONT}`;
    const italic = `italic 13.9px ${FONT}`;
    ctx.font = normal;
    ctx.fillText("Samples", 827, 59);
    let x = 827;
    const parts: [string, string][] = [
      ["μ", italic],
      [" = 5925.8, ", normal],
      ["σ", italic],
      [" = 8.51", normal],
    ];
    for (const [t, f] of parts) {
      ctx.font = f;
      ctx.fillText(t, x, 76);
      x += ctx.measureText(t).width;
    }
    ctx.restore();
  },
};

export default function App() {
  const ref = useRef<HTMLCanvasElement | null>(null);
  useEffect(() => {
    document.body.style.margin = "0";
    const points: { x: number; y: number }[] = [];
    levels.forEach((v, i) => sampleRows[i].forEach((s) => points.push({ x: s, y: v })));
    const tickFont = { family: FONT, size: 13.9 };
    const chart = new Chart(ref.current as HTMLCanvasElement, {
      type: "scatter",
      data: {
        datasets: [
          {
            label: "Samples",
            data: points,
            pointRadius: 2.75,
            pointBorderWidth: 0,
            pointBackgroundColor: "#000",
            pointHoverRadius: 2.75,
          },
        ],
      },
      options: {
        animation: false,
        responsive: false,
        events: [],
        layout: { padding: { left: 0, right: 15, top: 0, bottom: 0 } },
        plugins: {
          legend: { display: false },
          tooltip: { enabled: false },
          title: {
            display: true,
            text: titleText,
            color: "#000",
            fullSize: false,
            font: { family: FONT, size: 16.67, weight: "normal", lineHeight: 1.2 },
            padding: { top: 13, bottom: 2 },
          },
        },
        scales: {
          x: {
            type: "linear",
            min: -479,
            max: 10347,
            afterBuildTicks: (s: any) => {
              s.ticks = xTicks.map((value) => ({ value }));
            },
            afterFit: (s: any) => {
              s.height = 58;
            },
            grid: { color: "#b0b0b0", lineWidth: 1, tickColor: "#000", tickLength: 5 },
            border: { color: "#000" },
            ticks: {
              color: "#000",
              font: tickFont,
              maxRotation: 0,
              autoSkip: false,
              padding: 2,
              callback: (v: any) => String(v),
            },
            title: { display: true, text: xLabel, color: "#000", font: tickFont, padding: { top: 4, bottom: 13 } },
          },
          y: {
            type: "linear",
            min: 5887.42,
            max: 5966.64,
            afterBuildTicks: (s: any) => {
              s.ticks = yTicks.map((value) => ({ value }));
            },
            afterFit: (s: any) => {
              s.width = 81;
            },
            grid: { color: "#b0b0b0", lineWidth: 1, tickColor: "#000", tickLength: 5 },
            border: { color: "#000" },
            ticks: {
              color: "#000",
              font: tickFont,
              autoSkip: false,
              padding: 3,
              callback: (v: any) => String(v),
            },
            title: { display: true, text: yLabel, color: "#000", font: tickFont, padding: { top: 12, bottom: 4 } },
          },
        },
      },
      plugins: [framePlugin],
    } as any);
    return () => chart.destroy();
  }, []);
  return (
    <div style={{ width: 1000, height: 1000 }}>
      <canvas ref={ref} width={1000} height={1000} style={{ display: "block" }} />
    </div>
  );
}
